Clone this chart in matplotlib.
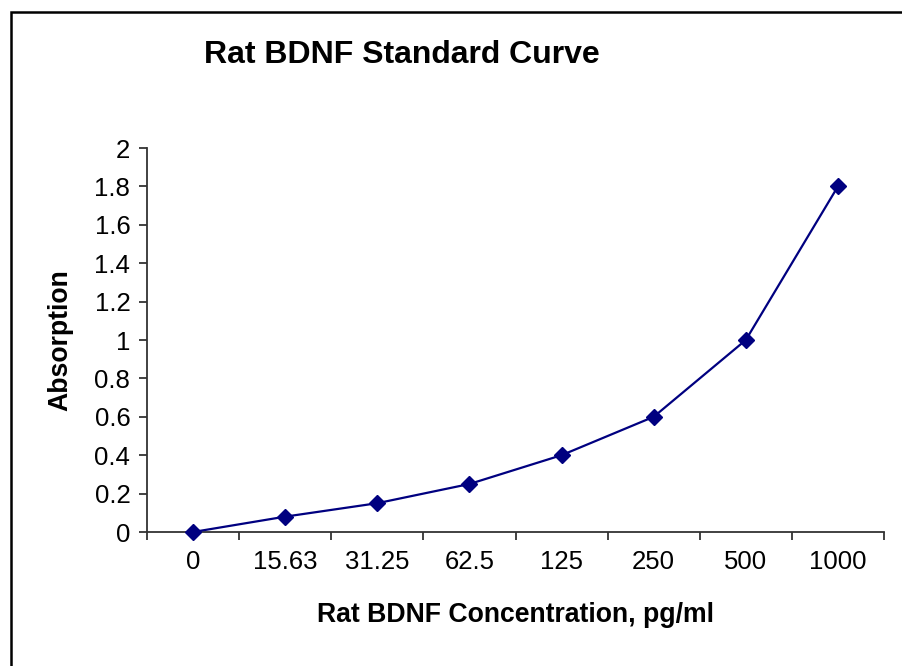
import matplotlib
matplotlib.use("Agg")
import matplotlib.pyplot as plt
from matplotlib.lines import Line2D

categories = ["0", "15.63", "31.25", "62.5", "125", "250", "500", "1000"]
absorption = [0.0, 0.08, 0.15, 0.25, 0.40, 0.60, 1.00, 1.80]
y_ticks = [0, 0.2, 0.4, 0.6, 0.8, 1, 1.2, 1.4, 1.6, 1.8, 2]
y_tick_labels = ["0", "0.2", "0.4", "0.6", "0.8", "1", "1.2", "1.4", "1.6", "1.8", "2"]

plt.rcParams['font.family'] = ['Liberation Sans', 'DejaVu Sans']

W, H = 902, 666
fig = plt.figure(figsize=(W / 100, H / 100), dpi=100)

# outer chart frame (left/top visible, right/bottom run off the image)
fx, fy = 10.5 / W, 1 - 11.5 / H
fig.lines.append(Line2D([fx, fx, 1.05], [-0.05, fy, fy], transform=fig.transFigure,
                        color='black', linewidth=1.8, solid_joinstyle='miter'))

ax = fig.add_axes([147 / W, (H - 532) / H, (884 - 147) / W, (532 - 148) / H])
x = list(range(len(categories)))
ax.plot(x, absorption, color='#000080', linewidth=1.6, marker='D',
        markersize=8.5, markerfacecolor='#000080', markeredgecolor='#000080',
        clip_on=False, zorder=3)

ax.set_xlim(-0.5, len(categories) - 0.5)
ax.set_ylim(0, 2)
ax.set_xticks(x)
ax.set_xticklabels(categories)
ax.set_xticks([i - 0.5 for i in range(len(categories) + 1)], minor=True)
ax.set_yticks(y_ticks)
ax.set_yticklabels(y_tick_labels)

for s in ['top', 'right']:
    ax.spines[s].set_visible(False)
for s in ['left', 'bottom']:
    ax.spines[s].set_color('#333333')
    ax.spines[s].set_linewidth(1.3)

ax.tick_params(axis='x', which='major', length=0, pad=13, labelsize=18.5, colors='black')
ax.tick_params(axis='x', which='minor', length=6, width=1.3, color='#333333', direction='out')
ax.tick_params(axis='y', which='major', length=6, width=1.3, color='#333333',
               direction='out', pad=6, labelsize=18.5, labelcolor='black')

ax.set_xlabel("Rat BDNF Concentration, pg/ml", fontsize=19.2, fontweight='bold', labelpad=20)
ax.set_ylabel("Absorption", fontsize=19.2, fontweight='bold', labelpad=15)

fig.text(402 / W, 1 - 55 / H, "Rat BDNF Standard Curve", fontsize=23, fontweight='bold',
         ha='center', va='center')

fig.savefig("out.png", dpi=100)
